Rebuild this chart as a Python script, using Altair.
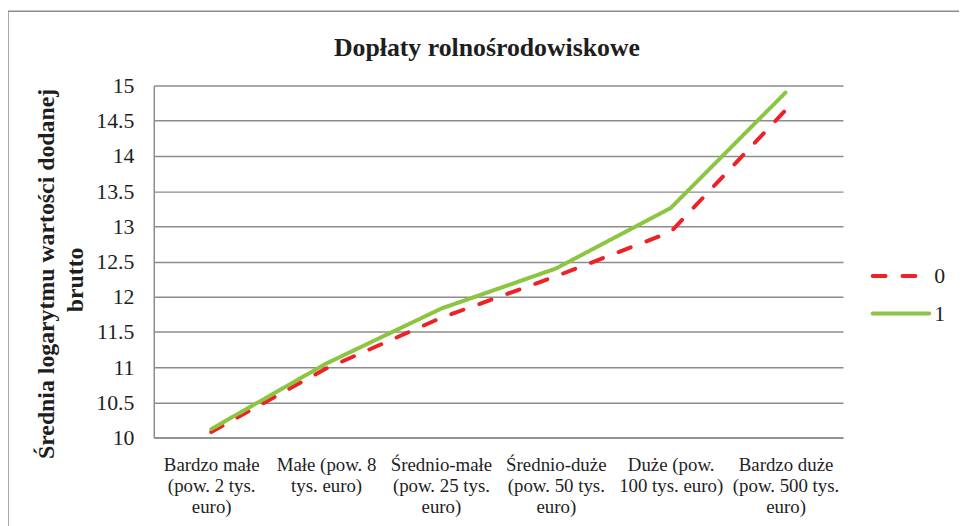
import altair as alt
import pandas as pd

# ---------------- data ----------------
TITLE = "Dopłaty rolnośrodowiskowe"
Y_TITLE_LINES = ["Średnia logarytmu wartości dodanej", "brutto"]
CATEGORIES = [
    "Bardzo małe\n(pow. 2 tys.\neuro)",
    "Małe (pow. 8\ntys. euro)",
    "Średnio-małe\n(pow. 25 tys.\neuro)",
    "Średnio-duże\n(pow. 50 tys.\neuro)",
    "Duże (pow.\n100 tys. euro)",
    "Bardzo duże\n(pow. 500 tys.\neuro)",
]
SERIES = ["0", "1"]
VALUES_0 = [10.08, 10.98, 11.70, 12.29, 12.92, 14.65]
VALUES_1 = [10.12, 11.05, 11.83, 12.40, 13.26, 14.90]
Y_TICKS = [10, 10.5, 11, 11.5, 12, 12.5, 13, 13.5, 14, 14.5, 15]
COLORS = ["#ec2227", "#8cc541"]
DASHES = [[13, 17], [1, 0]]

rows = []
for s, vals in zip(SERIES, [VALUES_0, VALUES_1]):
    for c, v in zip(CATEGORIES, vals):
        rows.append({"cat": c, "series": s, "value": v})
df = pd.DataFrame(rows)

FONT = "Liberation Serif"
TXT = "#1e1e1e"
GRID = "#8c8c8c"
W, H = 695, 355

lines = alt.Chart(df).mark_line(strokeWidth=4, strokeCap="round", strokeJoin="round").encode(
    x=alt.X("cat:N", sort=CATEGORIES,
            scale=alt.Scale(type="point", padding=0.5),
            axis=alt.Axis(title=None, labelExpr="split(datum.label, '\\n')",
                          labelFont=FONT, labelFontSize=19, labelLineHeight=21.5,
                          labelColor=TXT, labelAngle=0, labelPadding=18,
                          labelLimit=0, labelOverlap=False,
                          ticks=False, grid=False, domainColor=GRID, domainWidth=1.5)),
    y=alt.Y("value:Q", scale=alt.Scale(domain=[10, 15], nice=False, zero=False),
            axis=alt.Axis(title=None, values=Y_TICKS, format="~g",
                          labelFont=FONT, labelFontSize=22, labelColor=TXT,
                          labelPadding=20, ticks=False, grid=True,
                          gridColor=GRID, gridWidth=1.5,
                          domainColor=GRID, domainWidth=1.5)),
    color=alt.Color("series:N", scale=alt.Scale(domain=SERIES, range=COLORS), legend=None),
    strokeDash=alt.StrokeDash("series:N", scale=alt.Scale(domain=SERIES, range=DASHES), legend=None),
)

one = pd.DataFrame({"a": [0]})

frame = alt.Chart(one).mark_rect(fillOpacity=0, stroke=GRID, strokeWidth=1.5).encode(
    x=alt.value(-147), x2=alt.value(1000), y=alt.value(-75), y2=alt.value(700))

title = alt.Chart(one).mark_text(font=FONT, fontSize=26, fontWeight="bold", color=TXT,
                                 align="center", baseline="alphabetic").encode(
    x=alt.value(336), y=alt.value(-30), text=alt.value(TITLE))

ytitles = []
for i, (xv, yv) in enumerate([(-108, 190), (-78, 196)]):
    ytitles.append(alt.Chart(one).mark_text(font=FONT, fontSize=24, fontWeight="bold", color=TXT,
                                            align="center", baseline="middle", angle=270).encode(
        x=alt.value(xv), y=alt.value(yv), text=alt.value(Y_TITLE_LINES[i])))

legend = []
for i, s in enumerate(SERIES):
    ldf = pd.DataFrame({"series": [s]})
    legend.append(alt.Chart(ldf).mark_rule(strokeWidth=4, strokeCap="round",
                                           strokeDash=DASHES[i], color=COLORS[i]).encode(
        x=alt.value(725), x2=alt.value(782), y=alt.value(192 + 38 * i)))
    legend.append(alt.Chart(ldf).mark_text(font=FONT, fontSize=22, color=TXT,
                                           align="left", baseline="middle").encode(
        x=alt.value(787), y=alt.value(192 + 38 * i), text="series:N"))

chart = alt.layer(frame, lines, title, *ytitles, *legend).properties(
    width=W, height=H,
    autosize=alt.AutoSizeParams(type="none"),
    padding={"left": 147, "top": 76, "right": 117, "bottom": 87},
).configure_view(strokeWidth=0)

chart.save("out.html", embed_options={"renderer": "svg", "actions": False})
